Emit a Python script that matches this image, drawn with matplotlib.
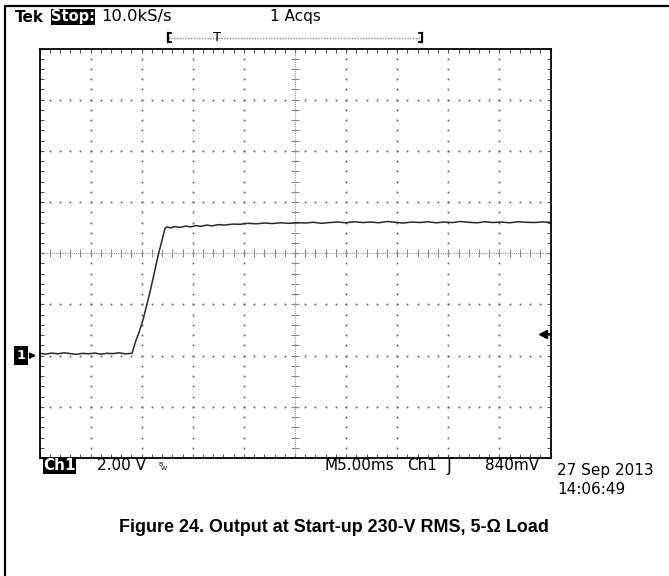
#!/usr/bin/env python3
"""Scope capture: output voltage at start-up, 230-V RMS, 5-ohm load."""

import matplotlib
matplotlib.use("Agg")
import matplotlib.pyplot as plt
import numpy as np

W, H = 669, 576

# Ch1 trace: time in ms, voltage in V
t_ms = [0.0, 0.6, 1.2, 1.8, 2.4, 3.0, 3.6, 4.2, 4.8, 5.4, 6.0, 6.6, 7.2, 7.8, 8.4, 9.05,
        9.4, 9.77, 10.16, 10.81, 11.62, 12.28,
        12.45, 12.8, 13.2, 13.75, 14.3, 14.8, 15.3, 15.8, 16.36, 16.9, 17.5, 18.1, 18.93,
        19.6, 20.4, 21.2, 22.0, 22.8, 23.6, 24.4, 25.2, 26.0, 26.8, 27.6, 28.4, 29.2, 30.0,
        30.8, 31.6, 32.4, 33.2, 34.0, 34.8, 35.6, 36.4, 37.2, 38.0, 38.8, 39.6, 40.4, 41.2,
        42.0, 42.8, 43.6, 44.4, 45.2, 46.0, 46.8, 47.6, 48.4, 49.2, 50.0]
ch1_v = [0.09, 0.06, 0.10, 0.07, 0.11, 0.08, 0.05, 0.09, 0.07, 0.10, 0.06, 0.09, 0.08, 0.11, 0.07, 0.09,
         0.55, 0.94, 1.45, 2.48, 3.93, 4.97,
         5.03, 4.99, 5.04, 5.01, 5.06, 5.03, 5.08, 5.05, 5.10, 5.07, 5.12, 5.10, 5.14,
         5.13, 5.17, 5.15, 5.18, 5.16, 5.19, 5.17, 5.20, 5.18, 5.21, 5.17, 5.20, 5.22, 5.19,
         5.23, 5.20, 5.22, 5.19, 5.24, 5.21, 5.18, 5.22, 5.20, 5.23, 5.19, 5.22, 5.20, 5.24,
         5.21, 5.19, 5.23, 5.20, 5.22, 5.19, 5.23, 5.21, 5.20, 5.22, 5.21]

# scope settings
time_per_div = 5.0      # ms
volts_per_div = 2.0     # V
ground_div = -2         # ground marker, divisions from centre
trig_level = 0.84       # V

header_rate = "10.0kS/s"
header_acqs = "1 Acqs"
scale_label = "2.00 V"
time_label = "M5.00ms"
trig_src = "Ch1"
trig_label = "840mV"
date_label = "27 Sep 2013"
clock_label = "14:06:49"
caption = "Figure 24. Output at Start-up 230-V RMS, 5-\u03a9 Load"


def main():
    fig = plt.figure(figsize=(W / 100, H / 100), dpi=100)

    # graticule area in pixels
    left, right, top, bottom = 39.5, 550.5, 48.5, 458.0
    ax = fig.add_axes([left / W, 1 - bottom / H, (right - left) / W, (bottom - top) / H])

    x0, x1 = 0.0, 10 * time_per_div
    vc = -ground_div * volts_per_div          # voltage at screen centre
    y0, y1 = vc - 4 * volts_per_div, vc + 4 * volts_per_div
    ax.set_xlim(x0, x1)
    ax.set_ylim(y0, y1)

    # inner ticks on the frame every 0.2 div
    ax.set_xticks(np.arange(x0, x1 + 1e-6, time_per_div / 5))
    ax.set_yticks(np.arange(y0, y1 + 1e-6, volts_per_div / 5))
    ax.tick_params(direction="in", length=3, width=0.8, color="#555555",
                   top=True, right=True, labelbottom=False, labelleft=False)
    for s in ax.spines.values():
        s.set_linewidth(1.3)
        s.set_color("black")

    xc = (x0 + x1) / 2
    sub_x = np.arange(x0, x1 + 1e-6, time_per_div / 5)
    sub_y = np.arange(y0, y1 + 1e-6, volts_per_div / 5)

    # dotted division lines
    for k in range(1, 10):
        xv = x0 + k * time_per_div
        if k == 5:
            continue
        ax.plot(np.full_like(sub_y, xv), sub_y, ls="none", marker="s", ms=1.2,
                mec="none", mfc="#5a5a5a")
    for k in range(1, 8):
        yv = y0 + k * volts_per_div
        if k == 4:
            continue
        ax.plot(sub_x, np.full_like(sub_x, yv), ls="none", marker="s", ms=1.2,
                mec="none", mfc="#5a5a5a")

    # centre crosshair
    ax.axhline(vc, color="#9a9a9a", lw=0.8, ls=(0, (1, 1)))
    ax.axvline(xc, color="#9a9a9a", lw=0.8, ls=(0, (1, 1)))
    ax.plot(sub_x, np.full_like(sub_x, vc), ls="none", marker="|", ms=6,
            mew=0.8, color="#8a8a8a")
    ax.plot(np.full_like(sub_y, xc), sub_y, ls="none", marker="_", ms=6,
            mew=0.8, color="#8a8a8a")

    # the trace
    ax.plot(t_ms, ch1_v, color="#2a2a2a", lw=1.1, solid_joinstyle="round")

    # overlay in pixel coordinates for the screen furniture
    ov = fig.add_axes([0, 0, 1, 1], zorder=5)
    ov.set_xlim(0, W)
    ov.set_ylim(H, 0)
    ov.axis("off")
    ov.patch.set_alpha(0)

    # outer frame (left and top)
    ov.plot([5, 5, W], [H, 6, 6], color="black", lw=1.6)

    fs = 11
    mono = dict(family="DejaVu Sans", fontsize=fs, va="center", color="black")
    ov.text(15, 17, "Tek", fontweight="bold", **mono)
    ov.text(51, 17, "Stop:", color="white", fontweight="bold", family="DejaVu Sans",
            fontsize=fs - 0.5, va="center",
            bbox=dict(boxstyle="square,pad=0.03", fc="black", ec="none"))
    ov.text(101, 17, header_rate, family="DejaVu Sans", fontsize=11.8, va="center")
    ov.text(270, 17, header_acqs, **mono)

    # record bar with trigger position
    ov.plot([168, 422], [37.5, 37.5], color="#8a8a8a", lw=1.0, ls=(0, (1, 1)))
    ov.plot([168, 168], [33, 42], color="black", lw=1.6)
    ov.plot([168, 171], [33, 33], color="black", lw=1.3)
    ov.plot([168, 171], [42, 42], color="black", lw=1.3)
    ov.plot([422, 422], [33, 42], color="black", lw=1.6)
    ov.plot([419, 422], [33, 33], color="black", lw=1.3)
    ov.plot([419, 422], [42, 42], color="black", lw=1.3)
    ov.text(217, 37.5, "T", ha="center", va="center", fontsize=9.5, family="DejaVu Sans")

    # ground marker "1->"
    gy = top + (y1 - 0.0) / (y1 - y0) * (bottom - top)
    ov.text(21, gy, "1", color="white", fontweight="bold", fontsize=9.5, ha="center",
            va="center", bbox=dict(boxstyle="square,pad=0.2", fc="black", ec="none"))
    ov.annotate("", xy=(39, gy), xytext=(28, gy),
                arrowprops=dict(arrowstyle="-|>", color="black", lw=1.3,
                                mutation_scale=8))

    # trigger level marker on the right
    ty = top + (y1 - trig_level) / (y1 - y0) * (bottom - top)
    ov.plot([545, 551], [ty, ty], color="black", lw=1.3)
    ov.plot([543], [ty], marker="<", ms=6, color="black")

    # bottom readout
    by = 466
    ov.text(43, by, "Ch1", color="white", fontweight="bold", fontsize=fs, va="center",
            family="DejaVu Sans",
            bbox=dict(boxstyle="square,pad=0.03", fc="black", ec="none"))
    ov.text(97, by, scale_label, **mono)
    ov.text(158, by - 1, "B", fontsize=4.5, va="center", family="DejaVu Sans")
    ov.text(161, by + 2, "W", fontsize=4.5, va="center", family="DejaVu Sans")
    ov.text(325, by, time_label, **mono)
    ov.text(407, by, trig_src, **mono)
    ov.text(446, by, "\u0283", fontsize=12, va="center", family="DejaVu Sans")
    ov.text(485, by, trig_label, **mono)
    ov.text(557, by + 4, date_label, **mono)
    ov.text(557, by + 24, clock_label, **mono)

    # figure caption
    ov.text(334, 527, caption, ha="center", va="center", fontsize=12.9,
            fontweight="bold", family="Liberation Sans")

    fig.savefig("out.png", dpi=100)
    plt.close(fig)


if __name__ == "__main__":
    main()
